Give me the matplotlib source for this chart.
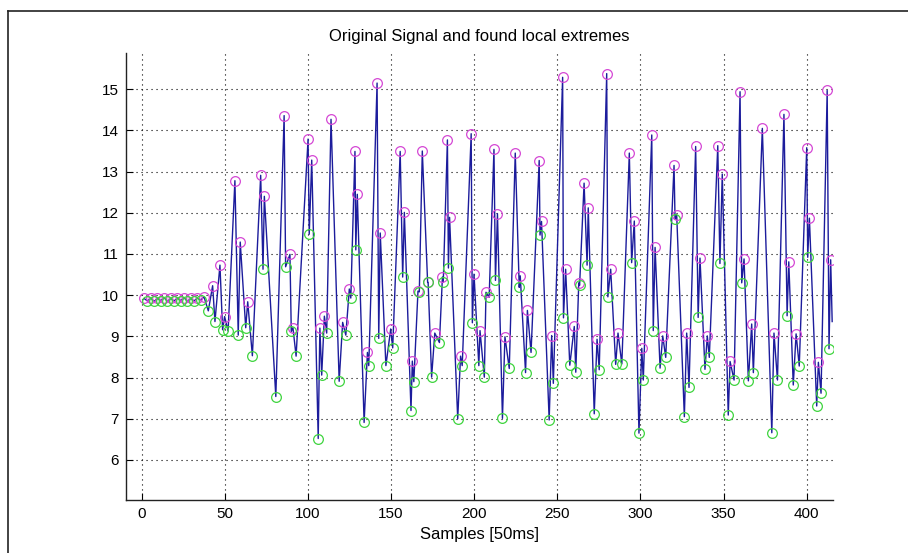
import matplotlib
matplotlib.use("Agg")
import matplotlib.pyplot as plt
from matplotlib.lines import Line2D
import numpy as np

# ---- data ----
flat_max_x = [1.5, 5.5, 9.5, 13.5, 17.5, 21.5, 25.5, 29.5, 33.5, 37.5]
flat_max_y = [9.92, 9.93, 9.92, 9.94, 9.92, 9.93, 9.94, 9.92, 9.93, 9.96]
flat_min_x = [3.5, 7.5, 11.5, 15.5, 19.5, 23.5, 27.5, 31.5, 35.5]
flat_min_y = [9.86, 9.85, 9.87, 9.85, 9.86, 9.87, 9.85, 9.86, 9.88]

max_x = [42.7, 47.1, 49.9, 56.1, 59.3, 63.8, 71.6, 73.8, 85.7, 89.2, 91.0,
         100.1, 102.3, 107.2, 109.9, 113.9, 120.9, 124.9, 128.3, 129.7, 135.8,
         141.6, 143.5, 149.8, 155.5, 158.0, 162.8, 166.2, 168.8, 172.0, 176.3,
         180.9, 183.9, 185.2, 191.8, 198.2, 199.9, 203.5, 207.1, 211.9, 214.0,
         218.5, 224.7, 227.7, 232.0, 239.1, 240.5, 246.6, 253.2, 255.0, 260.2,
         262.9, 266.1, 268.6, 273.9, 279.7, 282.1, 286.5, 293.3, 296.3, 300.8,
         306.8, 308.8, 313.4, 320.2, 321.8, 327.8, 333.2, 335.8, 340.2, 346.5,
         349.2, 353.9, 359.9, 362.3, 366.9, 373.3, 380.3, 386.3, 389.2, 393.6,
         400.0, 401.6, 407.0, 412.3, 414.4]
max_y = [10.23, 10.73, 9.48, 12.78, 11.29, 9.84, 12.91, 12.40, 14.36, 10.99, 9.21,
         13.79, 13.28, 9.20, 9.49, 14.27, 9.34, 10.15, 13.49, 12.45, 8.61,
         15.15, 11.51, 9.18, 13.49, 12.01, 8.40, 10.10, 13.50, 10.31, 9.08,
         10.44, 13.77, 11.89, 8.52, 13.92, 10.51, 9.14, 10.07, 13.54, 11.98,
         8.99, 13.45, 10.47, 9.63, 13.27, 11.79, 9.02, 15.29, 10.63, 9.24,
         10.30, 12.72, 12.12, 8.93, 15.38, 10.63, 9.08, 13.45, 11.80, 8.71,
         13.89, 11.16, 9.01, 13.15, 11.95, 9.08, 13.61, 10.90, 9.01, 13.63,
         12.94, 8.39, 14.94, 10.88, 9.30, 14.05, 9.08, 14.39, 10.81, 9.06,
         13.58, 11.87, 8.37, 14.97, 10.86]

min_x = [40.1, 44.1, 48.7, 52.0, 58.1, 62.6, 66.6, 73.0, 80.7, 86.6, 90.0, 92.9,
         100.8, 106.2, 108.3, 111.3, 118.8, 122.8, 125.8, 128.8, 133.8, 136.6,
         142.6, 146.9, 151.0, 157.0, 162.0, 163.7, 167.0, 172.3, 174.4, 179.1,
         181.4, 184.5, 190.1, 192.8, 198.9, 202.8, 206.1, 209.0, 212.8, 217.0,
         221.1, 227.1, 230.9, 234.2, 239.6, 245.1, 247.6, 253.7, 257.5, 261.1,
         263.4, 267.9, 272.2, 275.2, 280.4, 285.1, 288.8, 294.7, 299.1, 301.7,
         307.7, 311.8, 315.2, 320.8, 326.4, 329.2, 334.7, 338.8, 341.4, 347.8,
         352.8, 356.3, 360.9, 364.9, 367.9, 379.0, 382.4, 388.2, 391.9, 395.5,
         400.6, 406.0, 408.6, 413.4]
min_y = [9.62, 9.36, 9.16, 9.13, 9.03, 9.21, 8.53, 10.63, 7.54, 10.69, 9.12, 8.52,
         11.48, 6.52, 8.06, 9.08, 7.91, 9.03, 9.93, 11.10, 6.91, 8.29,
         8.95, 8.29, 8.72, 10.44, 7.20, 7.90, 10.08, 10.31, 8.01, 8.85,
         10.31, 10.66, 7.00, 8.29, 9.33, 8.29, 8.01, 9.95, 10.36, 7.01,
         8.22, 10.19, 8.12, 8.61, 11.46, 6.97, 7.86, 9.45, 8.30, 8.13,
         10.24, 10.73, 7.12, 8.19, 9.96, 8.32, 8.33, 10.79, 6.65, 7.94,
         9.14, 8.23, 8.49, 11.84, 7.05, 7.76, 9.46, 8.20, 8.49, 10.77,
         7.09, 7.94, 10.30, 7.92, 8.12, 6.66, 7.94, 9.50, 7.82, 8.28,
         10.92, 7.31, 7.62, 8.70]

start_x, start_y = [1.0], [9.90]
end_x, end_y = [415.3], [9.36]

x_ticks = [0, 50, 100, 150, 200, 250, 300, 350, 400]
y_ticks = [6, 7, 8, 9, 10, 11, 12, 13, 14, 15]
title_text = "Original Signal and found local extremes"
xlabel_text = "Samples [50ms]"

# ---- build the signal polyline through all points ----
all_max_x = flat_max_x + max_x
all_max_y = flat_max_y + max_y
all_min_x = flat_min_x + min_x
all_min_y = flat_min_y + min_y
sx = np.array(start_x + all_max_x + all_min_x + end_x)
sy = np.array(start_y + all_max_y + all_min_y + end_y)
order = np.argsort(sx, kind="stable")
sx, sy = sx[order], sy[order]

plt.rcParams['font.family'] = ['Liberation Sans', 'DejaVu Sans']

W, H = 908, 553
fig = plt.figure(figsize=(W / 100, H / 100), dpi=100)
fig.patch.set_facecolor('white')

ax = fig.add_axes([126 / W, 1 - 500.3 / H, (833 - 126) / W, (500.3 - 53) / H])

ax.plot(sx, sy, color='#1c1c9c', lw=1.0, zorder=3)
ax.plot(all_max_x, all_max_y, linestyle='none', marker='o', markersize=7,
        markerfacecolor='none', markeredgecolor='#d548d5', markeredgewidth=0.9, zorder=4)
ax.plot(all_min_x, all_min_y, linestyle='none', marker='o', markersize=7,
        markerfacecolor='none', markeredgecolor='#3ed43e', markeredgewidth=0.9, zorder=4)

ax.set_xlim(-9.4, 415.8)
ax.set_ylim(5.02, 15.88)
ax.set_xticks(x_ticks)
ax.set_yticks(y_ticks)
ax.tick_params(direction='in', length=5, width=0.8, labelsize=11, colors='black', pad=5)
ax.grid(True, color='black', linestyle=(0, (1, 3.5)), linewidth=0.8)
for s in ['top', 'right']:
    ax.spines[s].set_visible(False)
for s in ['left', 'bottom']:
    ax.spines[s].set_linewidth(1.0)
    ax.spines[s].set_color('#222222')

ax.set_title(title_text, fontsize=12, pad=9)
ax.set_xlabel(xlabel_text, fontsize=12, labelpad=4)

# outer frame of the figure window
fig.add_artist(Line2D([8 / W, 8 / W], [0, 1 - 11 / H], transform=fig.transFigure,
                      color='#222222', lw=1.2))
fig.add_artist(Line2D([8 / W, 1], [1 - 11 / H, 1 - 11 / H], transform=fig.transFigure,
                      color='#222222', lw=1.2))

fig.savefig('out.png', dpi=100)
